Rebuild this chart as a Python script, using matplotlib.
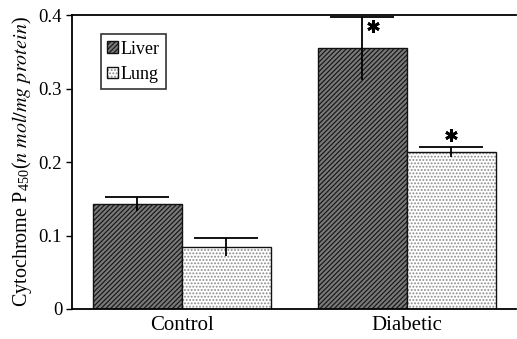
import matplotlib
matplotlib.use("Agg")
import matplotlib.pyplot as plt
import numpy as np

categories = ["Control", "Diabetic"]
series = ["Liver", "Lung"]
liver = [0.143, 0.355]
liver_err = [0.009, 0.043]
lung = [0.084, 0.214]
lung_err = [0.012, 0.007]
yticks = [0, 0.1, 0.2, 0.3, 0.4]
yticklabels = ["0", "0.1", "0.2", "0.3", "0.4"]

plt.rcParams['font.family'] = ['Liberation Serif', 'DejaVu Serif']
plt.rcParams['mathtext.fontset'] = 'stix'
plt.rcParams['hatch.linewidth'] = 0.9

fig = plt.figure(figsize=(5.17, 3.39), dpi=100)
ax = fig.add_axes([0.139, 0.0885, 0.859, 0.867])

centers = np.array([1.236, 3.764])
w = 1.0
b1 = ax.bar(centers - w/2, liver, w, facecolor='#7a7a7a', edgecolor='#111111',
            hatch='///////', linewidth=1.0, label=series[0])
b2 = ax.bar(centers + w/2, lung, w, facecolor='white', edgecolor='#111111',
            hatch='.....', linewidth=1.0, label=series[1])
for b in b2:
    b._hatch_color = matplotlib.colors.to_rgba('#8a8a8a')
for b in b1:
    b._hatch_color = matplotlib.colors.to_rgba('#1a1a1a')

xs = np.concatenate([centers - w/2, centers + w/2])
vals = np.array(liver + lung)
errs = np.array(liver_err + lung_err)
# error lines (symmetric, no lower cap) and top cap only
ax.errorbar(xs, vals, yerr=errs, fmt='none', ecolor='black', elinewidth=1.3, capsize=0)
ax.plot(xs, vals + errs, linestyle='none', marker='_', markersize=46,
        markeredgewidth=1.3, color='black')

# significance asterisks
star_dx = [0.12, 0.0]
star_dy = [-0.013, 0.016]
star_x = [centers[1] - w/2 + star_dx[0], centers[1] + w/2 + star_dx[1]]
star_y = [liver[1] + liver_err[1] + star_dy[0], lung[1] + lung_err[1] + star_dy[1]]
ax.plot(star_x, star_y, linestyle='none', marker=(6, 2, 0), markersize=9,
        markeredgewidth=2.0, color='black')

ax.set_xlim(0, 4.99)
ax.set_ylim(0, 0.4)
ax.set_yticks(yticks)
ax.set_yticklabels(yticklabels, fontsize=13.5)
ax.set_xticks(centers)
ax.set_xticklabels(categories, fontsize=15)
ax.tick_params(axis='x', length=0, pad=5)
ax.tick_params(axis='y', direction='out', length=4, width=1, pad=3)
for s in ['left', 'bottom', 'top', 'right']:
    ax.spines[s].set_linewidth(1.3)
ax.spines['right'].set_visible(False)

ax.set_ylabel(r"Cytochrome P$_{\mathregular{450}}$($\mathit{n\ mol/mg\ protein}$)",
              fontsize=14.5, labelpad=3)

leg = ax.legend(loc='upper left', bbox_to_anchor=(0.065, 0.935), fontsize=13,
                frameon=True, fancybox=False, edgecolor='black', handlelength=0.6,
                handleheight=0.6, handletextpad=0.15, borderpad=0.35, labelspacing=0.45,
                borderaxespad=0)
leg.get_frame().set_linewidth(1.2)

fig.savefig("out.png", dpi=100)
